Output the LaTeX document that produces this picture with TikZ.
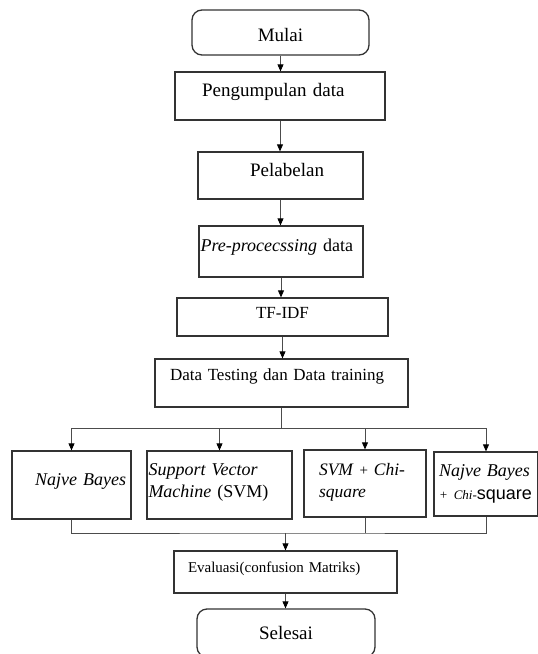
\documentclass[tikz,border=0pt]{standalone}
\usepackage{fontspec}
\setmainfont{Liberation Serif}
\newfontfamily\sqfont{Liberation Sans}
\usetikzlibrary{arrows.meta}

\begin{document}
\begin{tikzpicture}[x=1pt,y=-1pt,
        kotak/.style={draw=black!80, line width=1.3pt, inner ysep=0pt},
        ujung/.style={kotak, rounded corners=10pt},
        fbesar/.style={font=\fontsize{19}{22}\selectfont},
        fsedang/.style={font=\fontsize{18}{22}\selectfont},
        fkecil/.style={font=\fontsize{17}{20}\selectfont},
        garis/.style={draw=black!70, line width=0.8pt},
        panah/.style={garis, -{Triangle[color=black, length=7pt, width=6pt]}}]
        \fill[white, use as bounding box] (0,0) rectangle (538,654);

        % alur utama
        \node[ujung, fbesar, minimum width=177pt, minimum height=45pt,
              text height=17.6pt, text depth=0pt] (mulai) at (280.5,32.5) {Mulai};
        \node[kotak, fbesar, text width=156pt, inner xsep=27pt, align=left, minimum height=48pt,
              text height=10pt, text depth=9.4pt] (kumpul) at (280,96) {Pengumpulan data};
        \node[kotak, fbesar, text width=87pt, inner xsep=39pt, align=right, minimum height=47pt,
              text height=10pt, text depth=8.4pt] (label) at (280.5,175.5) {Pelabelan};
        \node[kotak, fsedang, text width=161pt, inner xsep=1.5pt, align=left, minimum height=51pt,
              text height=10pt, text depth=10.4pt] (pre) at (281,251.5) {\textit{Pre-procecssing} data};
        \node[kotak, fkecil, minimum width=211pt, minimum height=38pt,
              text height=10pt, text depth=6.8pt] (tfidf) at (282.5,317) {TF-IDF};
        \node[kotak, fkecil, text width=223pt, inner xsep=15pt, align=left, minimum height=48pt,
              text height=10pt, text depth=14.8pt] (split) at (281.5,383) {Data Testing dan Data training};

        % empat metode
        \node[kotak, fsedang, text width=109pt, inner xsep=5pt, align=right, minimum height=68pt,
              text height=10pt, text depth=10pt] (nb) at (71.5,485) {\textit{Najve Bayes}};
        \node[kotak, fsedang, text width=142pt, inner xsep=1.5pt, align=left, minimum height=68pt,
              text height=10pt, text depth=30pt] (svm) at (219.5,485)
              {\textit{Support Vector}\\\textit{Machine} (SVM)};
        \node[kotak, font=\fontsize{17.5}{22}\selectfont, text width=106pt, inner xsep=8pt, align=left,
              minimum height=67pt, text height=10pt, text depth=27pt] (svmchi) at (365,483.5)
              {\hspace*{7pt}\textit{SVM} {\fontsize{15}{15}\selectfont +} \textit{Chi-}\\\hspace*{7pt}\textit{square}};
        \node[kotak, font=\fontsize{18}{23}\selectfont, text width=94pt, inner xsep=5pt, align=left,
              minimum height=64pt, text height=10pt, text depth=26pt] (nbchi) at (486,484)
              {\textit{Najve Bayes}\\{\fontsize{13}{15}\selectfont\textit{+ Chi-}}{\sqfont square}};

        \node[kotak, font=\fontsize{15}{18}\selectfont, text width=195pt, inner xsep=14pt, align=left,
              minimum height=42pt, text height=10pt, text depth=10pt] (eval) at (285.5,572)
              {Evaluasi(confusion Matriks)};
        \node[ujung, fbesar, minimum width=178pt, minimum height=48pt] (selesai) at (286,633) {Selesai};

        \coordinate (cabang) at (281.5,428);
        \coordinate (gabung) at (285.5,533);

        \draw[panah] (mulai.south) -- (mulai.south |- kumpul.north);
        \draw[panah] (kumpul.south) -- (kumpul.south |- label.north);
        \draw[panah] (label.south) -- (label.south |- pre.north);
        \draw[panah] (pre.south) -- (pre.south |- tfidf.north);
        \draw[panah] (tfidf.south) -- (tfidf.south |- split.north);
        \draw[garis] (split.south) -- (cabang);
        \draw[panah] (cabang) -| (nb.north);
        \draw[panah] (cabang) -| (svm.north);
        \draw[panah] (cabang) -| (svmchi.north);
        \draw[panah] (cabang) -| (nbchi.north);
        \draw[garis] (nb.south) |- (gabung) -| (nbchi.south);
        \draw[garis] (svmchi.south) -- (svmchi.south |- gabung);
        \draw[panah] (gabung) -- (eval.north);
        \draw[panah] (eval.south) -- (eval.south |- selesai.north);
\end{tikzpicture}
\end{document}
